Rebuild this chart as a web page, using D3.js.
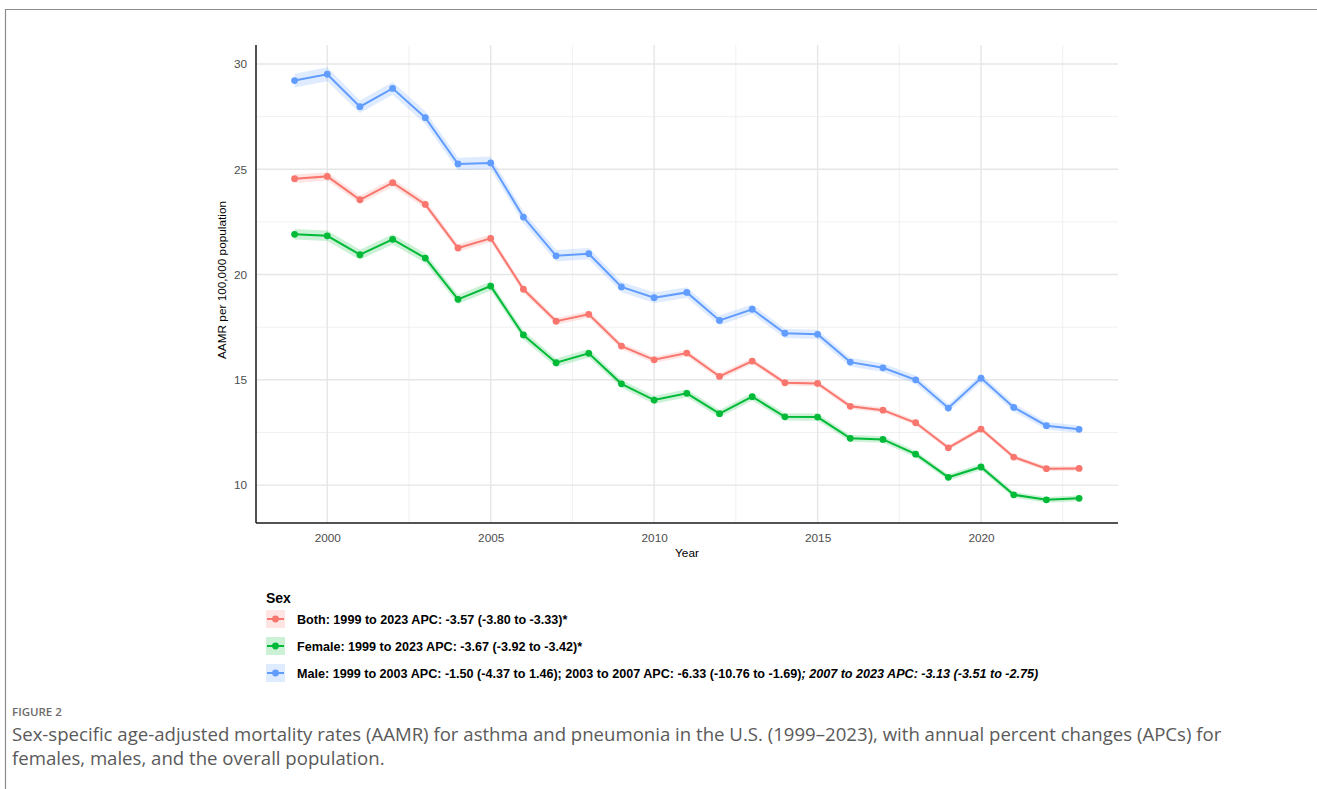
<!DOCTYPE html>
<html>
<head>
<meta charset="utf-8">
<script src="https://cdn.jsdelivr.net/npm/d3@7"></script>
<style>
  body { margin: 0; background: #fff; }
  svg { display: block; }
</style>
</head>
<body>
<div id="chart"></div>
<script>
// data
var years = [1999, 2000, 2001, 2002, 2003, 2004, 2005, 2006, 2007, 2008, 2009, 2010,
             2011, 2012, 2013, 2014, 2015, 2016, 2017, 2018, 2019, 2020, 2021, 2022, 2023];

var bothValues = [24.55, 24.66, 23.55, 24.36, 23.33, 21.26, 21.72, 19.30, 17.78, 18.11, 16.60, 15.95,
                  16.27, 15.16, 15.89, 14.86, 14.83, 13.74, 13.56, 12.96, 11.77, 12.66, 11.33, 10.78, 10.79];
var femaleValues = [21.91, 21.84, 20.94, 21.67, 20.78, 18.82, 19.45, 17.13, 15.81, 16.26, 14.81, 14.04,
                    14.36, 13.39, 14.20, 13.24, 13.23, 12.22, 12.17, 11.47, 10.37, 10.86, 9.54, 9.30, 9.37];
var maleValues = [29.21, 29.51, 27.97, 28.84, 27.45, 25.25, 25.30, 22.73, 20.89, 20.99, 19.41, 18.90,
                  19.15, 17.82, 18.35, 17.21, 17.16, 15.84, 15.57, 15.00, 13.66, 15.08, 13.69, 12.82, 12.65];

// half width of the confidence ribbon
var bothCI = [0.20, 0.20, 0.19, 0.19, 0.18, 0.18, 0.18, 0.17, 0.16, 0.16, 0.15, 0.15,
              0.15, 0.14, 0.14, 0.13, 0.13, 0.13, 0.12, 0.12, 0.12, 0.12, 0.11, 0.11, 0.11];
var femaleCI = [0.25, 0.25, 0.24, 0.24, 0.23, 0.22, 0.22, 0.21, 0.20, 0.20, 0.19, 0.19,
                0.19, 0.18, 0.18, 0.17, 0.17, 0.16, 0.16, 0.15, 0.15, 0.15, 0.14, 0.14, 0.14];
var maleCI = [0.33, 0.33, 0.30, 0.30, 0.30, 0.30, 0.30, 0.28, 0.27, 0.27, 0.25, 0.25,
              0.25, 0.23, 0.23, 0.22, 0.22, 0.21, 0.20, 0.20, 0.19, 0.20, 0.19, 0.18, 0.18];

var xTicks = [2000, 2005, 2010, 2015, 2020];
var yTicks = [10, 15, 20, 25, 30];
var xMinor = [2002.5, 2007.5, 2012.5, 2017.5, 2022.5];
var yMinor = [12.5, 17.5, 22.5, 27.5];

var seriesNames = ["Both", "Female", "Male"];
var seriesColors = ["#F8766D", "#00BA38", "#619CFF"];
var legendLabels = [
  ["Both: 1999 to 2023 APC: -3.57 (-3.80 to -3.33)*", ""],
  ["Female: 1999 to 2023 APC: -3.67 (-3.92 to -3.42)*", ""],
  ["Male: 1999 to 2003 APC: -1.50 (-4.37 to 1.46); 2003 to 2007 APC: -6.33 (-10.76 to -1.69)",
   "; 2007 to 2023 APC: -3.13 (-3.51 to -2.75)"]
];

var seriesList = [
  { name: "Both", values: bothValues, ci: bothCI },
  { name: "Female", values: femaleValues, ci: femaleCI },
  { name: "Male", values: maleValues, ci: maleCI }
];

var W = 1317, H = 789;
var margin = { top: 45, right: 199, bottom: 266, left: 256 };
var width = W - margin.left - margin.right;
var height = H - margin.top - margin.bottom;

var svg = d3.select("#chart").append("svg")
  .attr("width", W)
  .attr("height", H)
  .style("font-family", "'Liberation Sans', Arial, sans-serif");

// figure frame (only top and left edges visible)
svg.append("path")
  .attr("d", "M5.5," + H + " L5.5,9.5 L" + W + ",9.5")
  .attr("fill", "none")
  .attr("stroke", "#8c8c8c")
  .attr("stroke-width", 1.2);

var color = d3.scaleOrdinal().domain(seriesNames).range(seriesColors);

var xScale = d3.scaleLinear()
  .domain([1997.82, 2024.19])
  .range([0, width]);

var yScale = d3.scaleLinear()
  .domain([8.2, 30.9])
  .range([height, 0]);

var plot = svg.append("g")
  .attr("transform", `translate(${margin.left}, ${margin.top})`);

// grid
var grid = plot.append("g").attr("class", "grid");
grid.selectAll(".xminor").data(xMinor).join("line")
  .attr("x1", d => xScale(d)).attr("x2", d => xScale(d))
  .attr("y1", 0).attr("y2", height)
  .attr("stroke", "#ececec").attr("stroke-width", 0.8);
grid.selectAll(".yminor").data(yMinor).join("line")
  .attr("y1", d => yScale(d)).attr("y2", d => yScale(d))
  .attr("x1", 0).attr("x2", width)
  .attr("stroke", "#ececec").attr("stroke-width", 0.8);
grid.selectAll(".xmajor").data(xTicks).join("line")
  .attr("x1", d => xScale(d)).attr("x2", d => xScale(d))
  .attr("y1", 0).attr("y2", height)
  .attr("stroke", "#e6e6e6").attr("stroke-width", 1.4);
grid.selectAll(".ymajor").data(yTicks).join("line")
  .attr("y1", d => yScale(d)).attr("y2", d => yScale(d))
  .attr("x1", 0).attr("x2", width)
  .attr("stroke", "#e6e6e6").attr("stroke-width", 1.4);

// ribbons, lines, points
var area = d3.area()
  .x(d => xScale(d.year))
  .y0(d => yScale(d.value - d.ci))
  .y1(d => yScale(d.value + d.ci));
var line = d3.line()
  .x(d => xScale(d.year))
  .y(d => yScale(d.value));

seriesList.forEach(function(s) {
  var pts = years.map(function(y, i) {
    return { year: y, value: s.values[i], ci: s.ci[i] };
  });
  plot.append("path")
    .datum(pts)
    .attr("d", area)
    .attr("fill", color(s.name))
    .attr("opacity", 0.2);
});
seriesList.forEach(function(s) {
  var pts = years.map(function(y, i) {
    return { year: y, value: s.values[i] };
  });
  plot.append("path")
    .datum(pts)
    .attr("d", line)
    .attr("fill", "none")
    .attr("stroke", color(s.name))
    .attr("stroke-width", 2);
  plot.append("g").selectAll("circle")
    .data(pts)
    .join("circle")
    .attr("cx", d => xScale(d.year))
    .attr("cy", d => yScale(d.value))
    .attr("r", 3.4)
    .attr("fill", color(s.name));
});

// axes
var xAxis = d3.axisBottom(xScale).tickValues(xTicks).tickSize(0).tickPadding(11).tickFormat(d3.format("d"));
var yAxis = d3.axisLeft(yScale).tickValues(yTicks).tickSize(0).tickPadding(9);

var gx = plot.append("g")
  .attr("transform", `translate(0, ${height})`)
  .call(xAxis);
var gy = plot.append("g").call(yAxis);
[gx, gy].forEach(function(g) {
  g.select(".domain").remove();
  g.selectAll("text")
    .attr("fill", "#4d4d4d")
    .style("font-size", "11.8px")
    .style("font-family", "'Liberation Sans', Arial, sans-serif");
});

plot.append("line")
  .attr("x1", 0).attr("x2", 0).attr("y1", 0).attr("y2", height)
  .attr("stroke", "#1a1a1a").attr("stroke-width", 1.5);
plot.append("line")
  .attr("x1", 0).attr("x2", width).attr("y1", height).attr("y2", height)
  .attr("stroke", "#1a1a1a").attr("stroke-width", 1.5);

// axis titles
plot.append("text")
  .attr("x", 431)
  .attr("y", height + 34)
  .attr("text-anchor", "middle")
  .attr("font-size", "11.8px")
  .attr("fill", "#000")
  .text("Year");

plot.append("text")
  .attr("transform", `translate(${-30}, ${height / 2 - 4}) rotate(-90)`)
  .attr("text-anchor", "middle")
  .attr("font-size", "11.8px")
  .attr("fill", "#000")
  .text("AAMR per 100,000 population");

// legend
var legend = svg.append("g").attr("transform", "translate(266, 0)");
legend.append("text")
  .attr("x", 0)
  .attr("y", 603)
  .attr("font-size", "14px")
  .attr("font-weight", "bold")
  .text("Sex");

var legendY = [619, 646, 673];
seriesNames.forEach(function(name, i) {
  var g = legend.append("g").attr("transform", `translate(0, ${legendY[i]})`);
  g.append("rect")
    .attr("x", 0).attr("y", -9).attr("width", 19).attr("height", 18)
    .attr("fill", color(name)).attr("opacity", 0.2);
  g.append("line")
    .attr("x1", 1).attr("x2", 18).attr("y1", 0).attr("y2", 0)
    .attr("stroke", color(name)).attr("stroke-width", 2);
  g.append("circle")
    .attr("cx", 9.5).attr("cy", 0).attr("r", 3.4)
    .attr("fill", color(name));
  var t = g.append("text")
    .attr("x", 31)
    .attr("y", 4.5)
    .attr("font-size", "12.6px")
    .attr("font-weight", "bold")
    .attr("fill", "#000");
  t.append("tspan").text(legendLabels[i][0]);
  if (legendLabels[i][1]) {
    t.append("tspan").attr("font-style", "italic").text(legendLabels[i][1]);
  }
});

// caption
var cap = svg.append("g").style("font-family", "'Open Sans', 'Noto Sans', sans-serif");
cap.append("text")
  .attr("x", 12).attr("y", 716)
  .attr("font-size", "11.5px")
  .attr("font-weight", 600)
  .attr("fill", "#6b6b6b")
  .text("FIGURE 2");
cap.append("text")
  .attr("x", 12).attr("y", 741)
  .attr("font-size", "18.6px")
  .attr("fill", "#5a5a5a")
  .text("Sex-specific age-adjusted mortality rates (AAMR) for asthma and pneumonia in the U.S. (1999\u20132023), with annual percent changes (APCs) for");
cap.append("text")
  .attr("x", 12).attr("y", 765)
  .attr("font-size", "18.6px")
  .attr("fill", "#5a5a5a")
  .text("females, males, and the overall population.");
</script>
</body>
</html>
